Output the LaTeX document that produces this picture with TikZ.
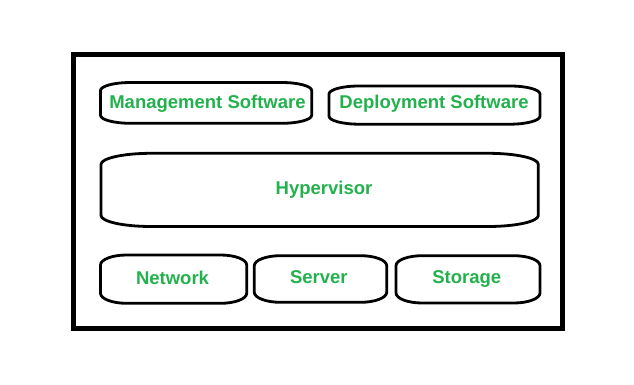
\documentclass[tikz,border=0pt]{standalone}
\usepackage{fontspec}
\setmainfont{Liberation Sans}
\usetikzlibrary{calc}
\definecolor{pgreen}{HTML}{22B14C}
\newcommand\drawcapsule[3]{%
\draw[boxline] ($(#1.north west)+(0,#3)$)
 .. controls ($(#1.north west)+(0,0.45*#3)$) and ($(#1.north west)+(0.45*#2,0)$) .. ($(#1.north west)+(#2,0)$)
 -- ($(#1.north east)+(-#2,0)$)
 .. controls ($(#1.north east)+(-0.45*#2,0)$) and ($(#1.north east)+(0,0.45*#3)$) .. ($(#1.north east)+(0,#3)$)
 -- ($(#1.south east)+(0,-#3)$)
 .. controls ($(#1.south east)+(0,-0.45*#3)$) and ($(#1.south east)+(-0.45*#2,0)$) .. ($(#1.south east)+(-#2,0)$)
 -- ($(#1.south west)+(#2,0)$)
 .. controls ($(#1.south west)+(0.45*#2,0)$) and ($(#1.south west)+(0,-0.45*#3)$) .. ($(#1.south west)+(0,-#3)$)
 -- cycle;}
\begin{document}
\begin{tikzpicture}[x=1pt,y=-1pt,
  lbl/.style={font=\bfseries\fontsize{18.5}{20}\selectfont, text=pgreen, anchor=base, inner sep=0},
  frame/.style={draw=black, line width=5pt, inner sep=0, outer sep=0},
  boxline/.style={draw=black, line width=2.8pt, line join=round},
  area/.style={inner sep=0, outer sep=0}]
\useasboundingbox[fill=white] (0,0) rectangle (634,385);
% outer frame
\node[frame, minimum width=489.5pt, minimum height=273.5pt] (frame) at (317.75,191.75) {};
% box areas
\node[area, minimum width=211.2pt, minimum height=40.8pt] (mgmtbox) at (206.1,102.9) {};
\node[area, minimum width=211pt, minimum height=38.2pt] (deploybox) at (434.5,105.1) {};
\node[area, minimum width=437.3pt, minimum height=73.2pt] (hypbox) at (319.65,189.9) {};
\node[area, minimum width=146.2pt, minimum height=48.3pt] (netbox) at (173.6,279.15) {};
\node[area, minimum width=132.4pt, minimum height=46.6pt] (serverbox) at (320.5,279) {};
\node[area, minimum width=144pt, minimum height=47.3pt] (storagebox) at (468,279.35) {};
\drawcapsule{mgmtbox}{30}{8}
\drawcapsule{deploybox}{30}{8}
\drawcapsule{hypbox}{50}{11}
\drawcapsule{netbox}{26}{10}
\drawcapsule{serverbox}{26}{10}
\drawcapsule{storagebox}{26}{10}
% labels
\node[lbl] (mgmt) at (207.5,108.5) {Management Software};
\node[lbl] (deploy) at (434,109) {Deployment Software};
\node[lbl] (hyp) at (324,194) {Hypervisor};
\node[lbl] (net) at (172.5,284.3) {Network};
\node[lbl] (server) at (318.8,283.7) {Server};
\node[lbl] (storage) at (466.7,283.7) {Storage};
\end{tikzpicture}
\end{document}
